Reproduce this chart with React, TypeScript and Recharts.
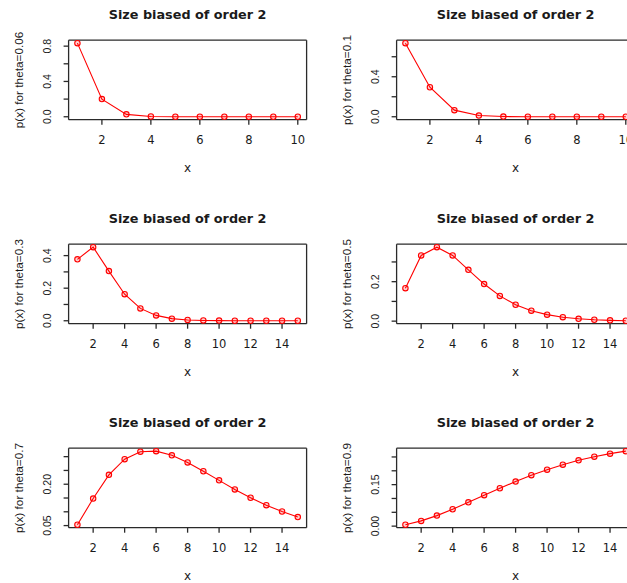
import { LineChart, Line, XAxis, YAxis } from "recharts";

// x values
const xShort = [1, 2, 3, 4, 5, 6, 7, 8, 9, 10];
const xLong = [1, 2, 3, 4, 5, 6, 7, 8, 9, 10, 11, 12, 13, 14, 15];

// x tick labels
const xTicksShort = [2, 4, 6, 8, 10];
const xTicksLong = [2, 4, 6, 8, 10, 12, 14];

// p(x)
const p006 = [0.834, 0.2, 0.027, 0.003, 0.0003, 0, 0, 0, 0, 0];
const p01 = [0.736, 0.295, 0.066, 0.012, 0.002, 0.0003, 0, 0, 0, 0];
const p03 = [0.377, 0.452, 0.305, 0.163, 0.076, 0.033, 0.013, 0.005, 0.002, 0.001, 0, 0, 0, 0, 0];
const p05 = [0.167, 0.333, 0.375, 0.333, 0.26, 0.188, 0.128, 0.083, 0.053, 0.033, 0.02, 0.012, 0.007, 0.004, 0.002];
const p07 = [0.053, 0.148, 0.234, 0.291, 0.318, 0.32, 0.305, 0.279, 0.247, 0.214, 0.181, 0.151, 0.124, 0.101, 0.081];
const p09 = [0.005, 0.019, 0.038, 0.061, 0.086, 0.112, 0.137, 0.161, 0.184, 0.204, 0.222, 0.238, 0.251, 0.262, 0.271];

// y ticks, and which of them carry a label
const yTicks006 = [0, 0.2, 0.4, 0.6, 0.8];
const yShown006 = [0, 0.4, 0.8];
const yTicks01 = [0, 0.2, 0.4, 0.6];
const yShown01 = [0, 0.4];
const yTicks03 = [0, 0.1, 0.2, 0.3, 0.4];
const yShown03 = [0, 0.2, 0.4];
const yTicks05 = [0, 0.1, 0.2, 0.3];
const yShown05 = [0, 0.2];
const yTicks07 = [0.05, 0.1, 0.15, 0.2, 0.25, 0.3];
const yShown07 = [0.05, 0.2];
const yTicks09 = [0, 0.05, 0.1, 0.15, 0.2, 0.25];
const yShown09 = [0, 0.15];

const BOX = "#2a2a2a";
const TEXT = "#1a1a1a";
const RED = "#ff0000";
const HFONT = "DejaVu Sans, Verdana, sans-serif";
const VFONT = "Liberation Sans, Arial, sans-serif";

type PanelProps = {
  theta: string;
  xs: number[];
  ys: number[];
  xTicks: number[];
  yTicks: number[];
  yShown: number[];
  digits: number;
};

const pad = (lo: number, hi: number): [number, number] => {
  const r = hi - lo;
  return [lo - 0.04 * r, hi + 0.04 * r];
};

function Panel({ theta, xs, ys, xTicks, yTicks, yShown, digits }: PanelProps) {
  const data = xs.map((x, i) => ({ x, p: ys[i] }));
  const xDomain = pad(Math.min(...xs), Math.max(...xs));
  const yDomain = pad(Math.min(...ys), Math.max(...ys));
  const fmtY = (v: number) =>
    yShown.some((s) => Math.abs(s - v) < 1e-9) ? v.toFixed(digits) : "";
  const edge = { stroke: BOX, strokeWidth: 1.3 };

  return (
    <LineChart
      width={328}
      height={204}
      data={data}
      margin={{ top: 39.2, right: 20.4, bottom: 24.3, left: 0 }}
    >
      <XAxis
        dataKey="x"
        type="number"
        domain={xDomain}
        ticks={xTicks}
        interval={0}
        height={60}
        tickSize={5}
        tickMargin={11.3}
        axisLine={edge}
        tickLine={edge}
        tick={{ fill: TEXT, fontSize: 11.5, fontFamily: HFONT }}
        label={{
          value: "x",
          position: "insideBottom",
          offset: 7.5,
          fill: TEXT,
          fontSize: 12,
          fontFamily: HFONT,
        }}
      />
      {/* top edge of the box, carries the title */}
      <XAxis
        xAxisId="top"
        orientation="top"
        type="number"
        domain={xDomain}
        height={1}
        tick={false}
        tickLine={false}
        axisLine={edge}
        label={{
          value: "Size biased of order 2",
          position: "top",
          offset: 20.5,
          fill: TEXT,
          fontSize: 12.8,
          fontWeight: "bold",
          fontFamily: HFONT,
        }}
      />
      <YAxis
        type="number"
        domain={yDomain}
        ticks={yTicks}
        interval={0}
        width={68.6}
        tickSize={5}
        tickMargin={16.5}
        tickFormatter={fmtY}
        axisLine={edge}
        tickLine={edge}
        tick={{
          fill: TEXT,
          fontSize: 10.5,
          fontFamily: VFONT,
          angle: -90,
          textAnchor: "middle",
        }}
        label={{
          value: `p(x) for theta=${theta}`,
          angle: -90,
          position: "insideLeft",
          offset: 18.5,
          fill: TEXT,
          fontSize: 11.8,
          fontFamily: VFONT,
          style: { textAnchor: "middle" },
        }}
      />
      {/* right edge of the box */}
      <YAxis
        yAxisId="right"
        orientation="right"
        type="number"
        domain={yDomain}
        width={1}
        tick={false}
        tickLine={false}
        axisLine={edge}
      />
      <Line
        type="linear"
        dataKey="p"
        stroke={RED}
        strokeWidth={1.1}
        dot={{ r: 2.7, stroke: RED, strokeWidth: 1.1, fill: "rgba(255,0,0,0.18)" }}
        activeDot={false}
        isAnimationActive={false}
      />
    </LineChart>
  );
}

const panels: PanelProps[] = [
  { theta: "0.06", xs: xShort, ys: p006, xTicks: xTicksShort, yTicks: yTicks006, yShown: yShown006, digits: 1 },
  { theta: "0.1", xs: xShort, ys: p01, xTicks: xTicksShort, yTicks: yTicks01, yShown: yShown01, digits: 1 },
  { theta: "0.3", xs: xLong, ys: p03, xTicks: xTicksLong, yTicks: yTicks03, yShown: yShown03, digits: 1 },
  { theta: "0.5", xs: xLong, ys: p05, xTicks: xTicksLong, yTicks: yTicks05, yShown: yShown05, digits: 1 },
  { theta: "0.7", xs: xLong, ys: p07, xTicks: xTicksLong, yTicks: yTicks07, yShown: yShown07, digits: 2 },
  { theta: "0.9", xs: xLong, ys: p09, xTicks: xTicksLong, yTicks: yTicks09, yShown: yShown09, digits: 2 },
];

export default function App() {
  return (
    <div
      style={{
        position: "absolute",
        left: 0,
        top: 0,
        width: 627,
        height: 583,
        overflow: "hidden",
        background: "#fff",
        fontFamily: VFONT,
      }}
    >
      {panels.map((p, i) => (
        <div
          key={p.theta}
          style={{ position: "absolute", left: (i % 2) * 328, top: Math.floor(i / 2) * 204 }}
        >
          <Panel {...p} />
        </div>
      ))}
    </div>
  );
}
